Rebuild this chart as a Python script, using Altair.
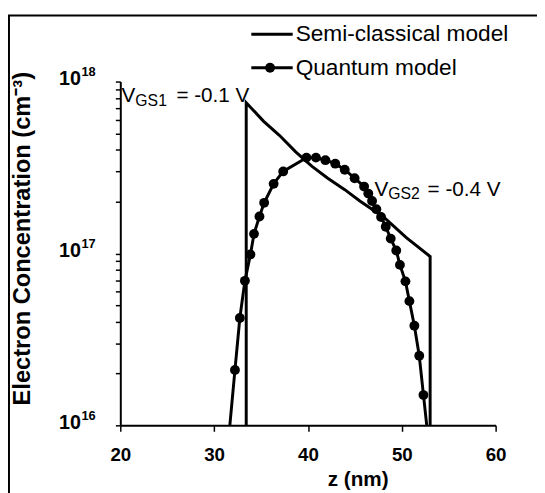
import altair as alt
import pandas as pd

FONT = "Liberation Sans"

# Semi-classical model (abrupt edges at both ends)
semi_z = [33.42, 33.42, 35.28, 36.98, 38.69, 40.40, 42.11, 43.92, 45.53, 48.11, 50.45, 53.02, 53.02]
semi_n = [1e15, 7.54e17, 5.87e17, 4.85e17, 3.90e17, 3.22e17, 2.74e17, 2.35e17, 2.02e17,
          1.62e17, 1.24e17, 9.6e16, 1e15]

# Quantum model
quant_z = [31.50, 32.22, 32.74, 33.28, 33.87, 34.25, 34.83, 35.33, 36.34, 37.36, 39.84,
           40.85, 41.86, 42.91, 43.92, 44.97, 45.98, 46.43, 46.83, 47.29, 47.79, 48.29,
           48.82, 49.41, 49.80, 50.39, 50.81, 51.34, 51.86, 52.31, 52.80]
quant_n = [7.9e15, 2.10e16, 4.21e16, 6.93e16, 9.87e16, 1.30e17, 1.64e17, 1.97e17, 2.54e17,
           3.00e17, 3.61e17, 3.61e17, 3.49e17, 3.33e17, 3.07e17, 2.74e17, 2.45e17, 2.23e17,
           2.02e17, 1.81e17, 1.63e17, 1.43e17, 1.22e17, 1.04e17, 8.58e16, 6.88e16, 5.28e16,
           3.80e16, 2.54e16, 1.50e16, 8.5e15]

x_ticks = [20, 30, 40, 50, 60]
y_ticks = [1e16, 2e16, 3e16, 4e16, 5e16, 6e16, 7e16, 8e16, 9e16,
           1e17, 2e17, 3e17, 4e17, 5e17, 6e17, 7e17, 8e17, 9e17, 1e18]
y_label_vals = [1e16, 1e17, 1e18]
y_label_exps = ["16", "17", "18"]

semi_df = pd.DataFrame({"z": semi_z, "n": semi_n, "i": list(range(len(semi_z)))})
quant_df = pd.DataFrame({"z": quant_z, "n": quant_n})
ylab_df = pd.DataFrame({"n": y_label_vals, "e": y_label_exps})
dummy = pd.DataFrame({"a": [0]})

xscale = alt.Scale(domain=[20, 60], nice=False, zero=False)
yscale = alt.Scale(type="log", domain=[1e16, 1e18], nice=False)

xaxis = alt.Axis(values=x_ticks, format="d", labelFont=FONT, labelFontSize=19,
                 labelFontWeight="bold", labelColor="black", labelPadding=15,
                 labelFlush=False, labelOverlap=False,
                 tickSize=6, tickWidth=1.5, tickColor="black",
                 domainColor="black", domainWidth=2, grid=False,
                 title="z (nm)", titleFont=FONT, titleFontSize=21, titleFontWeight="bold",
                 titleColor="black", titleX=241, titleY=61, titleAlign="center",
                 titleBaseline="alphabetic")

yaxis = alt.Axis(values=y_ticks, labels=False, tickSize=5, tickWidth=1.5, tickColor="black",
                 domainColor="black", domainWidth=2, grid=False,
                 title="Electron Concentration  (cm\u207b\u00b3)", titleFont=FONT,
                 titleFontSize=24, titleFontWeight="bold", titleColor="black",
                 titleAngle=270, titleX=-99, titleY=159, titleAlign="center",
                 titleBaseline="middle")

x_enc = alt.X("z:Q", scale=xscale, axis=xaxis)
y_enc = alt.Y("n:Q", scale=yscale, axis=yaxis)

frame = alt.Chart(dummy).mark_rect(fillOpacity=0, stroke="black", strokeWidth=2).encode(
    x=alt.value(-113), x2=alt.value(1000), y=alt.value(-67), y2=alt.value(1000))

semi = alt.Chart(semi_df).mark_line(clip=True, strokeWidth=3, color="black").encode(
    x=x_enc, y=y_enc, order="i:Q")

quant_line = alt.Chart(quant_df).mark_line(clip=True, strokeWidth=3, color="black").encode(
    x=x_enc, y=y_enc)
quant_pts = alt.Chart(quant_df).mark_circle(clip=True, size=100, color="black", opacity=1).encode(
    x=x_enc, y=y_enc)

ylab_base = alt.Chart(ylab_df).mark_text(text="10", align="right", baseline="alphabetic", dy=4,
                                         font=FONT, fontSize=20, fontWeight="bold",
                                         color="black").encode(
    x=alt.value(-40), y=y_enc)
ylab_exp = alt.Chart(ylab_df).mark_text(align="left", baseline="alphabetic", dy=-5.5,
                                        font=FONT, fontSize=13, fontWeight="bold",
                                        color="black").encode(
    x=alt.value(-39.5), y=y_enc, text="e:N")


def txt(s, x, y, size=21, align="left"):
    return alt.Chart(dummy).mark_text(text=s, align=align, baseline="alphabetic", font=FONT,
                                      fontSize=size, color="black").encode(
        x=alt.value(x), y=alt.value(y))


def hline(x1, x2, y):
    return alt.Chart(dummy).mark_rule(strokeWidth=3, color="black").encode(
        x=alt.value(x1), x2=alt.value(x2), y=alt.value(y))


legend_layers = [
    hline(133, 175, -48),
    alt.Chart(dummy).mark_text(text="Semi-classical model", align="left", baseline="middle",
                               font=FONT, fontSize=23, color="black").encode(
        x=alt.value(178), y=alt.value(-48)),
    hline(133, 175, -14),
    alt.Chart(dummy).mark_circle(size=100, color="black", opacity=1).encode(
        x=alt.value(152), y=alt.value(-14)),
    alt.Chart(dummy).mark_text(text="Quantum model", align="left", baseline="middle",
                               font=FONT, fontSize=23, color="black").encode(
        x=alt.value(178), y=alt.value(-14)),
]

annot_layers = [
    txt("V", 1.3, 21),
    txt("GS1", 15.3, 24.5, size=16),
    txt("= -0.1 V", 131, 21, align="right"),
    txt("V", 258, 116),
    txt("GS2", 272, 119.5, size=16),
    txt("= -0.4 V", 386, 116, align="right"),
]

chart = alt.layer(
    frame, semi, quant_line, quant_pts, ylab_base, ylab_exp, *legend_layers, *annot_layers
).properties(
    width=381, height=349,
    autosize=alt.AutoSizeParams(type="none"),
    padding={"left": 114, "top": 71, "right": 42, "bottom": 65},
    background="white",
).configure_view(stroke=None)

chart.save("out.html", embed_options={"renderer": "svg", "actions": False})
